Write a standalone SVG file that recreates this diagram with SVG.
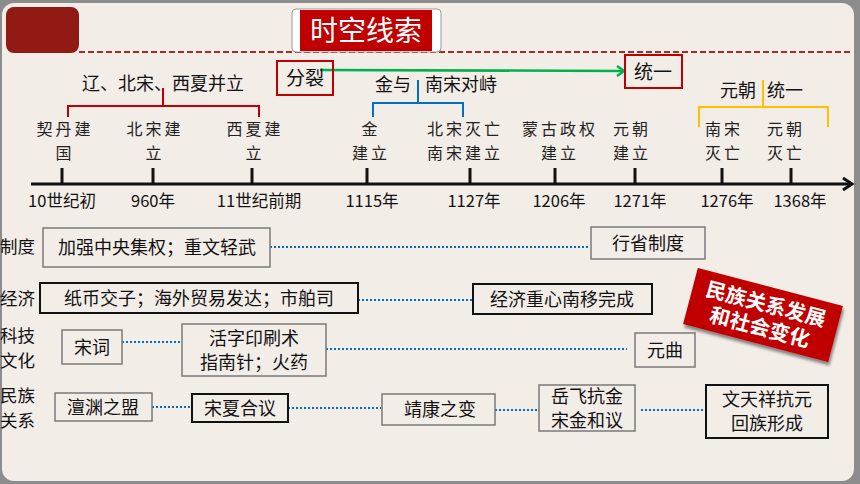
<svg xmlns="http://www.w3.org/2000/svg" width="860" height="484" viewBox="0 0 860 484">
<defs>
<style>
.t{font-family:"Noto Sans CJK SC","Noto Sans",sans-serif;fill:#111}
.ev{font-family:"Noto Sans CJK SC",serif;font-size:16px;letter-spacing:3px;fill:#222;text-anchor:middle}
.yr{font-family:"Noto Sans CJK SC","Liberation Sans",sans-serif;font-size:16.5px;fill:#111;text-anchor:middle}
.box{fill:none;stroke:#7a7a7a;stroke-width:1.5}
.boxk{fill:none;stroke:#111;stroke-width:2}
.dot{stroke:#0070c0;stroke-width:2;stroke-dasharray:2 2;fill:none}
.tick{stroke:#111;stroke-width:3}
.bt{font-family:"Noto Sans CJK SC",sans-serif;font-size:18px;fill:#111;text-anchor:middle}
.rl{font-family:"Noto Sans CJK SC",sans-serif;font-size:17.5px;fill:#111}
.st{font-family:"Noto Sans CJK SC",sans-serif;font-size:20.5px;font-weight:bold;fill:#fff;text-anchor:middle}
</style>
<marker id="ga" markerWidth="12" markerHeight="12" refX="9" refY="6" orient="auto" markerUnits="userSpaceOnUse"><path d="M2,1 L9,6 L2,11" fill="none" stroke="#00b050" stroke-width="2.5"/></marker>
<marker id="ka" markerWidth="14" markerHeight="14" refX="11" refY="7" orient="auto" markerUnits="userSpaceOnUse"><path d="M2,1 L11,7 L2,13" fill="none" stroke="#111" stroke-width="3"/></marker>
<filter id="sh" x="-10%" y="-10%" width="130%" height="130%"><feDropShadow dx="2" dy="3" stdDeviation="1.5" flood-color="#000" flood-opacity="0.45"/></filter>
</defs>
<rect x="0" y="0" width="860" height="484" fill="#8c8c8c"/>
<rect x="2" y="3" width="852" height="478" rx="12" fill="#f3ede8"/>
<g id="header">
<rect x="6" y="7" width="73" height="46" rx="8" fill="#921a14"/>
<line x1="79" y1="52" x2="852" y2="52" stroke="#a52a2a" stroke-width="2" stroke-dasharray="6 3"/>
<rect x="292" y="9" width="149" height="43" rx="4" fill="#fff" stroke="#999" stroke-width="1"/>
<rect x="300" y="10" width="132" height="41" fill="#c00000"/>
<text x="366" y="41" font-family="Noto Sans CJK SC,sans-serif" font-size="28" fill="#fff" text-anchor="middle">时空线索</text>
</g>
<g id="connectors">
<line x1="320" y1="70" x2="624" y2="71" stroke="#00b050" stroke-width="2.5" marker-end="url(#ga)"/>
<path d="M68,117 V106 H163 V88 M163,106 H259 V117" fill="none" stroke="#c00000" stroke-width="2"/>
<path d="M373,117 V103 H418 V80 M418,103 H463 V117" fill="none" stroke="#0070c0" stroke-width="2"/>
<path d="M699,127 V107 H763 V80 M763,107 H828 V127" fill="none" stroke="#ffc000" stroke-width="2"/>
<line x1="31" y1="184" x2="852" y2="184" stroke="#111" stroke-width="3" marker-end="url(#ka)"/>
<line class="tick" x1="62" y1="168" x2="62" y2="184"/>
<line class="tick" x1="153" y1="168" x2="153" y2="184"/>
<line class="tick" x1="252" y1="168" x2="252" y2="184"/>
<line class="tick" x1="367" y1="168" x2="367" y2="184"/>
<line class="tick" x1="470" y1="168" x2="470" y2="184"/>
<line class="tick" x1="555" y1="168" x2="555" y2="184"/>
<line class="tick" x1="635" y1="168" x2="635" y2="184"/>
<line class="tick" x1="722" y1="168" x2="722" y2="184"/>
<line class="tick" x1="791" y1="168" x2="791" y2="184"/>
<line class="dot" x1="270" y1="247" x2="588" y2="247"/>
<line class="dot" x1="358" y1="300" x2="473" y2="300"/>
<line class="dot" x1="122" y1="342" x2="181" y2="342"/>
<line class="dot" x1="326" y1="349" x2="627" y2="349"/>
<line class="dot" x1="152" y1="407" x2="193" y2="407"/>
<line class="dot" x1="288" y1="408" x2="381" y2="408"/>
<line class="dot" x1="495" y1="410" x2="538" y2="410"/>
<line class="dot" x1="641" y1="410" x2="704" y2="410"/>
</g>
<g id="split"><rect x="277" y="61" width="56" height="34" fill="none" stroke="#c00000" stroke-width="2"/><text class="t" x="305" y="85" font-size="19" text-anchor="middle">分裂</text></g>
<g id="unify"><rect x="625" y="55" width="57" height="33" fill="none" stroke="#c00000" stroke-width="2"/><text class="t" x="653" y="79" font-size="19" text-anchor="middle">统一</text></g>
<g id="period1"><text class="t" x="163" y="90" font-size="18" text-anchor="middle">辽、北宋、西夏并立</text></g>
<g id="period2"><text class="t" x="393" y="91" font-size="18" text-anchor="middle">金与</text><text class="t" x="461" y="91" font-size="18" text-anchor="middle">南宋对峙</text></g>
<g id="period3"><text class="t" x="738" y="97" font-size="18" text-anchor="middle">元朝</text><text class="t" x="785" y="97" font-size="18" text-anchor="middle">统一</text></g>
<g id="events">
<text class="ev" x="65" y="135">契丹建</text><text class="ev" x="65" y="159">国</text>
<text class="ev" x="155" y="135">北宋建</text><text class="ev" x="155" y="159">立</text>
<text class="ev" x="255" y="135">西夏建</text><text class="ev" x="255" y="159">立</text>
<text class="ev" x="371" y="135">金</text><text class="ev" x="371" y="159">建立</text>
<text class="ev" x="465" y="135">北宋灭亡</text><text class="ev" x="465" y="159">南宋建立</text>
<text class="ev" x="560" y="135">蒙古政权</text><text class="ev" x="560" y="159">建立</text>
<text class="ev" x="632" y="135">元朝</text><text class="ev" x="632" y="159">建立</text>
<text class="ev" x="724" y="135">南宋</text><text class="ev" x="724" y="159">灭亡</text>
<text class="ev" x="786" y="135">元朝</text><text class="ev" x="786" y="159">灭亡</text>
</g>
<g id="years">
<text class="yr" x="62" y="207">10世纪初</text>
<text class="yr" x="153" y="207">960年</text>
<text class="yr" x="259" y="207">11世纪前期</text>
<text class="yr" x="372" y="207">1115年</text>
<text class="yr" x="474" y="207">1127年</text>
<text class="yr" x="559" y="207">1206年</text>
<text class="yr" x="640" y="207">1271年</text>
<text class="yr" x="727" y="207">1276年</text>
<text class="yr" x="800" y="207">1368年</text>
</g>
<g id="rowlabels">
<text class="rl" x="0" y="253">制度</text>
<text class="rl" x="0" y="305">经济</text>
<text class="rl" x="0" y="342">科技</text>
<text class="rl" x="0" y="367">文化</text>
<text class="rl" x="0" y="402">民族</text>
<text class="rl" x="0" y="427">关系</text>
</g>
<g id="n1"><rect class="box" x="43" y="228" width="227" height="39"/><text class="bt" x="157" y="254">加强中央集权；重文轻武</text></g>
<g id="n2"><rect class="box" x="591" y="227" width="114" height="32"/><text class="bt" x="648" y="250">行省制度</text></g>
<g id="n3"><rect class="boxk" x="40" y="283" width="318" height="30"/><text class="bt" x="199" y="305">纸币交子；海外贸易发达；市舶司</text></g>
<g id="n4"><rect class="boxk" x="473" y="284" width="179" height="30"/><text class="bt" x="562" y="306">经济重心南移完成</text></g>
<g id="n5"><rect class="box" x="62" y="330" width="60" height="34"/><text class="bt" x="92" y="354">宋词</text></g>
<g id="n6"><rect class="box" x="182" y="324" width="144" height="52"/><text class="bt" x="254" y="345">活字印刷术</text><text class="bt" x="254" y="369">指南针；火药</text></g>
<g id="n7"><rect class="box" x="635" y="333" width="60" height="34"/><text class="bt" x="665" y="357">元曲</text></g>
<g id="n8"><rect class="box" x="55" y="393" width="97" height="28"/><text class="bt" x="103" y="414">澶渊之盟</text></g>
<g id="n9"><rect class="boxk" x="192" y="394" width="96" height="28" stroke-width="1.5"/><text class="bt" x="240" y="415">宋夏合议</text></g>
<g id="n10"><rect class="box" x="382" y="394" width="113" height="31"/><text class="bt" x="440" y="416">靖康之变</text></g>
<g id="n11"><rect class="box" x="539" y="385" width="96" height="46"/><text class="bt" x="587" y="403">岳飞抗金</text><text class="bt" x="587" y="427">宋金和议</text></g>
<g id="n12"><rect class="boxk" x="706" y="385" width="122" height="53"/><text class="bt" x="767" y="406">文天祥抗元</text><text class="bt" x="767" y="430">回族形成</text></g>
<g id="stamp" transform="translate(763,315) rotate(14.7)">
<rect x="-75" y="-29" width="150" height="58" fill="#c00000" filter="url(#sh)"/>
<text class="st" x="0" y="-4">民族关系发展</text>
<text class="st" x="0" y="20">和社会变化</text>
</g>
</svg>
